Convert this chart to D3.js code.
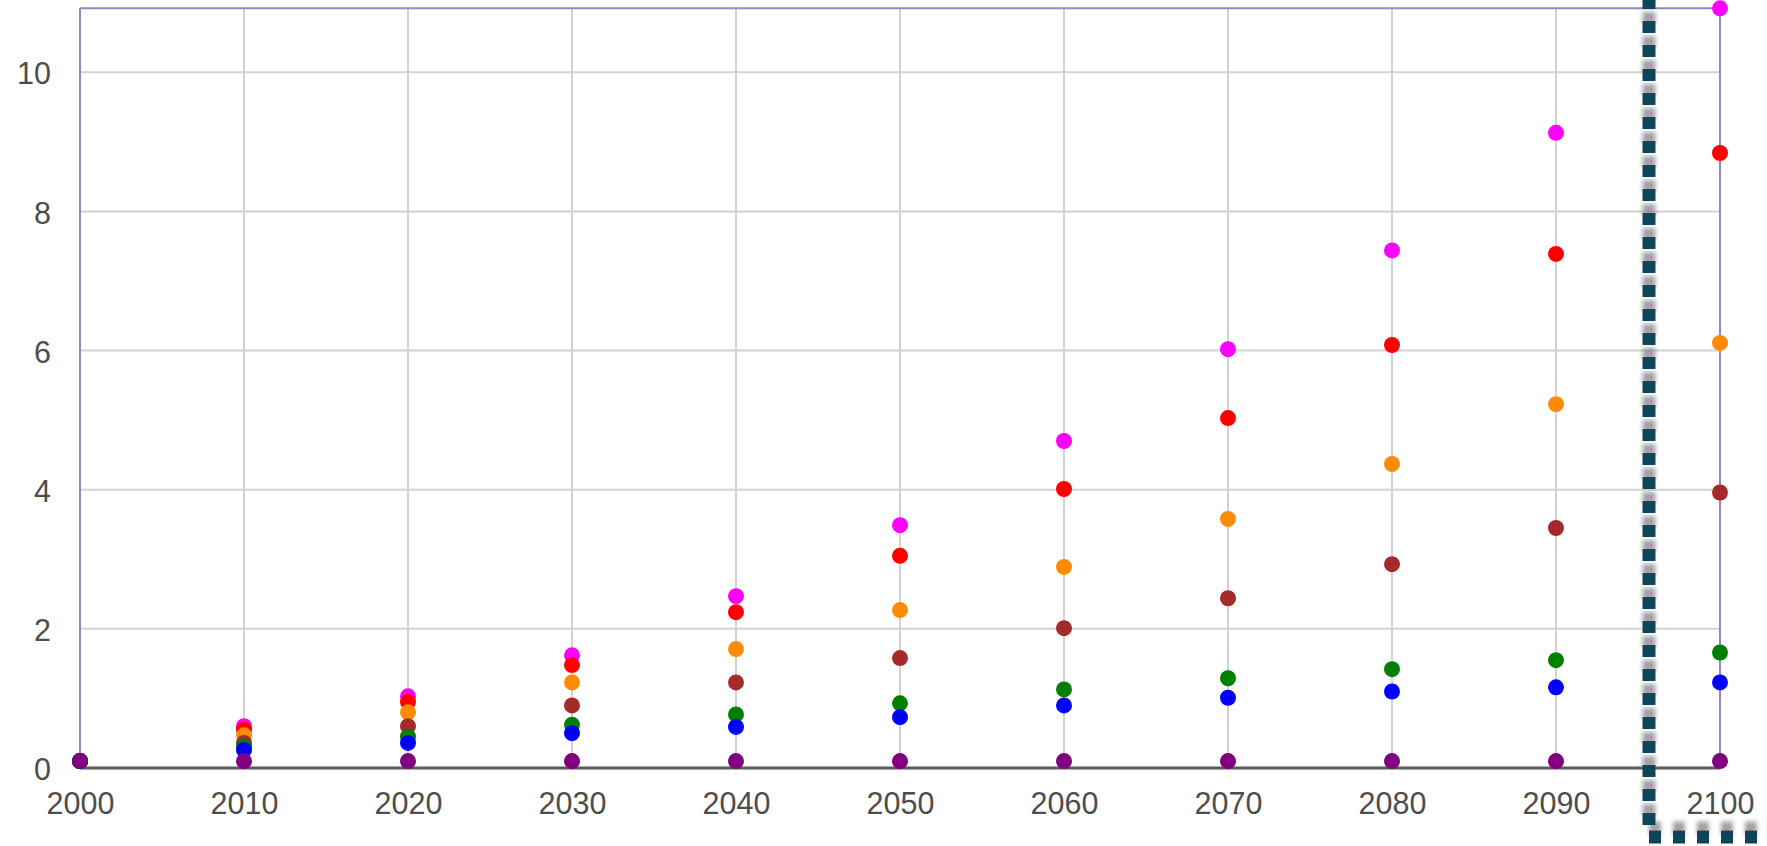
<!DOCTYPE html>
<html>
<head>
<meta charset="utf-8">
<script src="https://cdn.jsdelivr.net/npm/d3@7"></script>
<style>
  html, body { margin: 0; padding: 0; background: #fff; }
  svg { display: block; }
</style>
</head>
<body>
<svg id="chart" width="1767" height="846"></svg>
<script>
const years = [2000, 2010, 2020, 2030, 2040, 2050, 2060, 2070, 2080, 2090, 2100];
const xTicks = [2000, 2010, 2020, 2030, 2040, 2050, 2060, 2070, 2080, 2090, 2100];
const yTicks = [0, 2, 4, 6, 8, 10];

const magenta = [0.1, 0.60, 1.03, 1.62, 2.47, 3.49, 4.70, 6.02, 7.44, 9.13, 10.92];
const red     = [0.1, 0.55, 0.95, 1.48, 2.24, 3.05, 4.01, 5.03, 6.08, 7.39, 8.84];
const orange  = [0.1, 0.47, 0.80, 1.23, 1.71, 2.27, 2.89, 3.58, 4.37, 5.23, 6.11];
const brown   = [0.1, 0.36, 0.60, 0.90, 1.23, 1.58, 2.01, 2.44, 2.93, 3.45, 3.96];
const green   = [0.1, 0.31, 0.45, 0.62, 0.77, 0.93, 1.13, 1.29, 1.42, 1.55, 1.66];
const blue    = [0.1, 0.26, 0.36, 0.50, 0.59, 0.73, 0.90, 1.01, 1.10, 1.16, 1.23];
const purple  = [0.1, 0.10, 0.10, 0.10, 0.10, 0.10, 0.10, 0.10, 0.10, 0.10, 0.10];

const seriesNames  = ["magenta", "red", "orange", "brown", "green", "blue", "purple"];
const seriesValues = [magenta, red, orange, brown, green, blue, purple];
const seriesColors = ["#ff00ff", "#ff0000", "#ff8c00", "#a52a2a", "#008000", "#0000ff", "#800080"];

(function () {
const svg = d3.select("#chart");
const left = 80, right = 1720, bottom = 768;
const yMax = d3.max(seriesValues.flat());

const x = d3.scaleLinear().domain([2000, 2100]).range([left, right]);
const unit = (768 - 72.3) / 10;
const y = d3.scaleLinear().domain([0, yMax]).range([bottom, bottom - yMax * unit]);
const yTop = y(yMax);

// Grid
const grid = svg.append("g");
grid.selectAll("line.h").data(yTicks.filter(d => d > 0)).join("line")
  .attr("class", "h")
  .attr("x1", left).attr("x2", right)
  .attr("y1", d => y(d)).attr("y2", d => y(d))
  .attr("stroke", "#d2d2d2").attr("stroke-width", 2);
grid.selectAll("line.v").data(xTicks.filter(d => d > 2000 && d < 2100)).join("line")
  .attr("class", "v")
  .attr("y1", yTop).attr("y2", bottom)
  .attr("x1", d => x(d)).attr("x2", d => x(d))
  .attr("stroke", "#d2d2d2").attr("stroke-width", 2);

// Frame
svg.append("line").attr("x1", left).attr("x2", right).attr("y1", yTop).attr("y2", yTop)
  .attr("stroke", "#8f86cc").attr("stroke-width", 2);
svg.append("line").attr("x1", left).attr("x2", left).attr("y1", yTop).attr("y2", bottom)
  .attr("stroke", "#8f86cc").attr("stroke-width", 2);
svg.append("line").attr("x1", right).attr("x2", right).attr("y1", yTop).attr("y2", bottom)
  .attr("stroke", "#8f86cc").attr("stroke-width", 2);
svg.append("line").attr("x1", left).attr("x2", right).attr("y1", bottom).attr("y2", bottom)
  .attr("stroke", "#5a5a5a").attr("stroke-width", 3);

// Axis labels via d3 axes
const fontFam = "'Liberation Sans', Arial, sans-serif";
const xAxis = d3.axisBottom(x).tickValues(xTicks).tickFormat(d3.format("d")).tickSize(0).tickPadding(0);
const gx = svg.append("g").attr("transform", `translate(0,${bottom})`).call(xAxis);
gx.select(".domain").remove();
gx.selectAll("text").attr("dy", null).attr("y", 46)
  .attr("font-family", fontFam).attr("font-size", 30.5).attr("fill", "#4d4d4d");

const yAxis = d3.axisLeft(y).tickValues(yTicks).tickFormat(d3.format("d")).tickSize(0).tickPadding(0);
const gy = svg.append("g").attr("transform", `translate(51,0)`).call(yAxis);
gy.select(".domain").remove();
gy.selectAll("text").attr("x", 0).attr("dy", "0.38em")
  .attr("font-family", fontFam).attr("font-size", 30.5).attr("fill", "#4d4d4d");

// Points
const pts = svg.append("g");
seriesValues.forEach((vals, i) => {
  pts.append("g").attr("class", seriesNames[i])
    .selectAll("circle").data(vals.map((v, j) => ({year: years[j], v}))).join("circle")
    .attr("cx", d => x(d.year)).attr("cy", d => y(d.v)).attr("r", 8)
    .attr("fill", seriesColors[i]);
});

// Dotted annotation frame with shadow
const defs = svg.append("defs");
const f = defs.append("filter").attr("id", "sh").attr("x", "-50%").attr("y", "-50%").attr("width", "200%").attr("height", "200%");
f.append("feDropShadow").attr("dx", 0).attr("dy", -9).attr("stdDeviation", 2)
  .attr("flood-color", "#7a7a7a").attr("flood-opacity", 0.7);

svg.append("path")
  .attr("d", "M1649,-3 V837 H1800")
  .attr("fill", "none").attr("stroke", "#08445a").attr("stroke-width", 13)
  .attr("stroke-dasharray", "12 12").attr("stroke-linejoin", "round")
  .attr("filter", "url(#sh)");
})();
</script>
</body>
</html>
